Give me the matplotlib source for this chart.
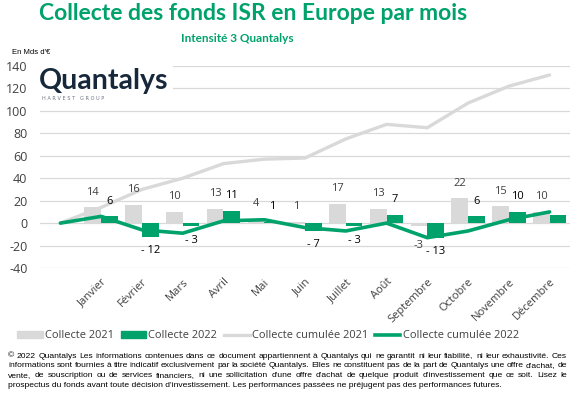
import matplotlib
matplotlib.use("Agg")
import matplotlib.pyplot as plt
import numpy as np
from matplotlib.patches import Patch
from matplotlib.lines import Line2D

plt.rcParams["axes.unicode_minus"] = False

# --- DONNÉES ---
mois = ["", "Janvier", "Février", "Mars", "Avril", "Mai", "Juin", "Juillet",
        "Août", "Septembre", "Octobre", "Novembre", "Décembre"]
collecte_2021 = [14, 16, 10, 13, 4, 1, 17, 13, -3, 22, 15, 10]
collecte_2022 = [6, -12, -3, 11, 1, -7, -3, 7, -13, 6, 10, 7]
etiquettes_2022 = ["6", "- 12", "- 3", "11", "1", "- 7", "- 3", "7", "- 13", "6", "10", ""]
cumul_2021 = [0, 14, 30, 40, 53, 57, 58, 75, 88, 85, 107, 122, 132]
cumul_2022 = [0, 6, -6, -9, 2, 3, -4, -7, 0, -13, -7, 3, 10]

VERT = "#00A26B"
GRIS = "#D9D9D9"
TEXTE = "#404040"
FONT = "Open Sans"

fig = plt.figure(figsize=(5.75, 3.99), dpi=100)
ax = fig.add_axes([40 / 575, 1 - 268 / 399, 530 / 575, 202 / 399])

x = np.arange(1, 13)
w = 0.41
ax.bar(x - w / 2, collecte_2021, width=w, color=GRIS, zorder=2)
ax.bar(x + w / 2, collecte_2022, width=w, color=VERT, zorder=2)
ax.plot(np.arange(13), cumul_2021, color=GRIS, lw=2.4, zorder=3, solid_capstyle="round")
ax.plot(np.arange(13), cumul_2022, color=VERT, lw=2.6, zorder=4, solid_capstyle="round")

# étiquettes de données
for i, v in enumerate(collecte_2021):
    dy = 11 if v >= 0 else -14
    ax.annotate(str(v), (x[i] - w / 2, v), xytext=(0, dy), textcoords="offset points",
                ha="center", va="center", fontsize=8, color=TEXTE, family=FONT, zorder=5)
for i, v in enumerate(collecte_2022):
    if not etiquettes_2022[i]:
        continue
    dy = 11 if v >= 0 else -10
    ax.annotate(etiquettes_2022[i], (x[i] + w / 2, v), xytext=(0, dy), textcoords="offset points",
                ha="center", va="center", fontsize=8, color="black", family=FONT, zorder=5)

ax.set_xlim(-0.5, 12.5)
ax.set_ylim(-40, 140)
ax.set_yticks(range(-40, 141, 20))
ax.set_xticks(range(13))
ax.set_xticklabels(mois, rotation=45, ha="right", rotation_mode="anchor",
                   fontsize=8, color=TEXTE, family=FONT)
ax.tick_params(axis="x", length=0, pad=6)
ax.tick_params(axis="y", length=0, labelsize=9, labelcolor=TEXTE, pad=9)
for lbl in ax.get_yticklabels():
    lbl.set_family(FONT)
ax.grid(axis="y", color=GRIS, lw=0.9, zorder=0)
ax.set_axisbelow(True)
for s in ax.spines.values():
    s.set_visible(False)

# logo
fig.text(39 / 575, 1 - 81 / 399, "Quantalys", fontsize=20.5, fontweight="bold", color="#16283A",
         family="Lato", va="center", ha="left",
         bbox=dict(facecolor="white", edgecolor="none", pad=3))
fig.text(42 / 575, 1 - 99 / 399, "H A R V E S T   G R O U P", fontsize=3.6, color="#6D7480",
         family="DejaVu Sans", va="center", ha="left")

# titres
fig.text(253 / 575, 1 - 13 / 399, "Collecte des fonds ISR en Europe par mois", fontsize=16.5,
         fontweight="bold", color=VERT, family="Lato", ha="center", va="center")
fig.text(237 / 575, 1 - 38 / 399, "Intensité 3 Quantalys", fontsize=8.5,
         fontweight="bold", color=VERT, family="Lato", ha="center", va="center")
fig.text(12 / 575, 1 - 52 / 399, "En Mds d'€", fontsize=5.5, color="black",
         family="Liberation Sans", ha="left", va="center")

# légende
handles = [Patch(color=GRIS), Patch(color=VERT),
           Line2D([0], [0], color=GRIS, lw=2.4), Line2D([0], [0], color=VERT, lw=2.6)]
labels = ["Collecte 2021", "Collecte 2022", "Collecte cumulée 2021", "Collecte cumulée 2022"]
fig.legend(handles, labels, loc="center", bbox_to_anchor=(268 / 575, 1 - 336 / 399), ncol=4,
           frameon=False, prop={"family": FONT, "size": 7.9}, handlelength=2.3,
           handleheight=0.6, handletextpad=0.2, columnspacing=0.65, labelcolor=TEXTE)

# mentions légales (justifiées)
lignes = [
    "© 2022 Quantalys Les informations contenues dans ce document appartiennent à Quantalys qui ne garantit ni leur fiabilité, ni leur exhaustivité. Ces",
    "informations sont fournies à titre indicatif exclusivement par la société Quantalys. Elles ne constituent pas de la part de Quantalys une offre d'achat, de",
    "vente, de souscription ou de services financiers, ni une sollicitation d'une offre d'achat de quelque produit d'investissement que ce soit. Lisez le",
    "prospectus du fonds avant toute décision d'investissement. Les performances passées ne préjugent pas des performances futures.",
]
renderer = fig.canvas.get_renderer()
x0, x1 = 8, 567
TAILLE = 6.1
for k, ligne in enumerate(lignes):
    yf = 1 - (357.5 + 9.8 * k) / 399
    if k == len(lignes) - 1:
        fig.text(x0 / 575, yf, ligne, fontsize=TAILLE, family="Liberation Sans", va="baseline", color="black")
        continue
    mots = ligne.split(" ")
    objs = [fig.text(0, yf, m, fontsize=TAILLE, family="Liberation Sans", va="baseline", color="black")
            for m in mots]
    largeurs = [o.get_window_extent(renderer).width for o in objs]
    esp = ((x1 - x0) - sum(largeurs)) / (len(mots) - 1)
    pos = x0
    for o, lw_ in zip(objs, largeurs):
        o.set_x(pos / 575)
        pos += lw_ + esp

fig.savefig("out.png", dpi=100)
